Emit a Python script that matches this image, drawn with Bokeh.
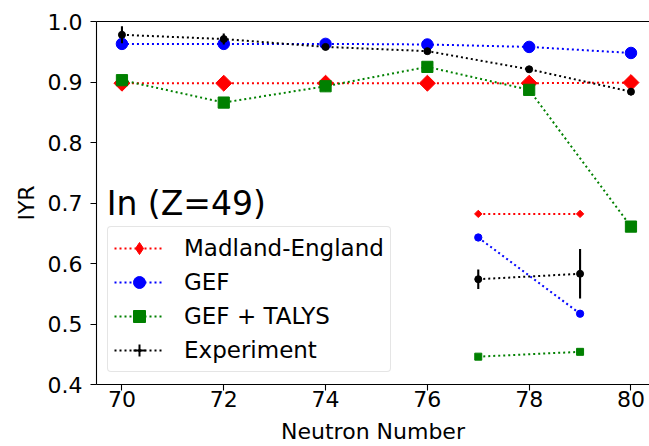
import math
from bokeh.plotting import figure
from bokeh.models import (Range1d, FixedTicker, PrintfTickFormatter, LinearAxis,
                          Legend, LegendItem, Label)
from bokeh.embed import file_html
from bokeh.resources import INLINE

# ---- data ----
neutron_number = [70, 72, 74, 76, 78, 80]
madland_england = [0.898, 0.898, 0.898, 0.898, 0.898, 0.899]
gef = [0.963, 0.963, 0.963, 0.962, 0.958, 0.948]
gef_talys = [0.903, 0.866, 0.893, 0.925, 0.887, 0.661]
experiment = [0.978, 0.971, 0.958, 0.951, 0.921, 0.884]
experiment_err = [0.014, 0.009, 0.004, 0.004, 0.004, 0.006]

neutron_number_odd = [77, 79]
madland_england_odd = [0.682, 0.682]
gef_odd = [0.643, 0.517]
gef_talys_odd = [0.446, 0.454]
experiment_odd = [0.574, 0.583]
experiment_odd_err = [0.016, 0.041]

x_ticks = [70, 72, 74, 76, 78, 80]
y_ticks = [0.4, 0.5, 0.6, 0.7, 0.8, 0.9, 1.0]

element_label = "In (Z=49)"
series_names = ["Madland-England", "GEF", "GEF + TALYS", "Experiment"]

FONT = "DejaVu Sans"
DASH = "2 3"
LW = 2

p = figure(width=649, height=446, output_backend="svg", toolbar_location=None,
           x_range=Range1d(69.5, 80.364), y_range=Range1d(0.4, 1.0),
           min_border_left=96, min_border_right=0, min_border_top=21,
           min_border_bottom=62,
           x_axis_label="Neutron Number", y_axis_label="IYR")
p.outline_line_color = None
p.grid.visible = False
p.background_fill_color = "white"
p.border_fill_color = "white"

for ax in (p.xaxis[0], p.yaxis[0]):
    ax.axis_line_color = "black"
    ax.axis_line_width = 1.1
    ax.major_tick_line_color = "black"
    ax.major_tick_line_width = 1.1
    ax.major_tick_out = 6
    ax.major_tick_in = 0
    ax.minor_tick_line_color = None
    ax.major_label_text_font = FONT
    ax.major_label_text_font_size = "22px"
    ax.major_label_text_color = "black"
    ax.axis_label_text_font = FONT
    ax.axis_label_text_font_size = "22px"
    ax.axis_label_text_font_style = "normal"
    ax.axis_label_text_color = "black"

p.xaxis[0].ticker = FixedTicker(ticks=x_ticks)
p.xaxis[0].formatter = PrintfTickFormatter(format="%d")
p.xaxis[0].major_label_standoff = 0
p.xaxis[0].axis_label_standoff = 9
p.yaxis[0].ticker = FixedTicker(ticks=y_ticks)
p.yaxis[0].formatter = PrintfTickFormatter(format="%.1f")
p.yaxis[0].major_label_standoff = 8
p.yaxis[0].axis_label_standoff = 6

top = LinearAxis(ticker=FixedTicker(ticks=[]), axis_line_color="black",
                 axis_line_width=1.1, major_tick_line_color=None,
                 minor_tick_line_color=None, major_label_text_font_size="0px")
p.add_layout(top, "above")

# ---- Madland-England ----
r_me_line = p.line(neutron_number, madland_england, line_color="red",
                   line_dash=DASH, line_width=LW)
# narrow diamonds (hidden under the plotted markers) give the legend its glyph
r_me_leg = p.scatter(neutron_number, madland_england, marker="diamond",
                     size=9, color="red")
p.scatter(neutron_number, madland_england, marker="square", angle=math.pi / 4,
          size=11.3, color="red")
p.line(neutron_number_odd, madland_england_odd, line_color="red",
       line_dash=DASH, line_width=LW)
p.scatter(neutron_number_odd, madland_england_odd, marker="square",
          angle=math.pi / 4, size=5.2, color="red")

# ---- GEF ----
r_gef_line = p.line(neutron_number, gef, line_color="blue", line_dash=DASH,
                    line_width=LW)
r_gef_pts = p.scatter(neutron_number, gef, marker="circle", size=11.5,
                      color="blue")
p.line(neutron_number_odd, gef_odd, line_color="blue", line_dash=DASH,
       line_width=LW)
p.scatter(neutron_number_odd, gef_odd, marker="circle", size=7.3, color="blue")

# ---- GEF + TALYS ----
r_gt_line = p.line(neutron_number, gef_talys, line_color="green",
                   line_dash=DASH, line_width=LW)
r_gt_pts = p.scatter(neutron_number, gef_talys, marker="square", size=11.2,
                     color="green")
p.line(neutron_number_odd, gef_talys_odd, line_color="green", line_dash=DASH,
       line_width=LW)
p.scatter(neutron_number_odd, gef_talys_odd, marker="square", size=7,
          color="green")

# ---- Experiment ----
r_exp_line = p.line(neutron_number, experiment, line_color="black",
                    line_dash=DASH, line_width=LW)
p.segment(neutron_number, [v - e for v, e in zip(experiment, experiment_err)],
          neutron_number, [v + e for v, e in zip(experiment, experiment_err)],
          line_color="black", line_width=2.1)
# legend-only glyphs, drawn small underneath the plotted points
r_exp_bar = p.scatter(neutron_number, experiment, marker="cross", size=4,
                      line_color="black", line_width=2)
r_exp_dot = p.scatter(neutron_number, experiment, marker="dot", size=4,
                      color="black", line_width=3)
p.scatter(neutron_number, experiment, marker="circle", size=7, color="black")
p.line(neutron_number_odd, experiment_odd, line_color="black", line_dash=DASH,
       line_width=LW)
p.segment(neutron_number_odd,
          [v - e for v, e in zip(experiment_odd, experiment_odd_err)],
          neutron_number_odd,
          [v + e for v, e in zip(experiment_odd, experiment_odd_err)],
          line_color="black", line_width=2.1)
p.scatter(neutron_number_odd, experiment_odd, marker="circle", size=7,
          color="black")

legend = Legend(items=[
    LegendItem(label=series_names[0], renderers=[r_me_line, r_me_leg]),
    LegendItem(label=series_names[1], renderers=[r_gef_line, r_gef_pts]),
    LegendItem(label=series_names[2], renderers=[r_gt_line, r_gt_pts]),
    LegendItem(label=series_names[3], renderers=[r_exp_line, r_exp_bar, r_exp_dot]),
], location=(11, 12), orientation="vertical", glyph_width=50, glyph_height=30,
    label_height=30, spacing=4, padding=6, margin=0, label_standoff=20,
    label_text_font=FONT, label_text_font_size="23px", label_text_color="black",
    border_line_color="#cccccc", border_line_width=1,
    background_fill_color="white", background_fill_alpha=0.8)
if "border_radius" in Legend.properties():
    legend.border_radius = 4
p.add_layout(legend, "center")

p.add_layout(Label(x=69.7, y=0.7, text=element_label, text_font=FONT,
                   text_font_size="33px", text_baseline="alphabetic",
                   text_color="black"))

open("out.html", "w").write(file_html(p, INLINE))
